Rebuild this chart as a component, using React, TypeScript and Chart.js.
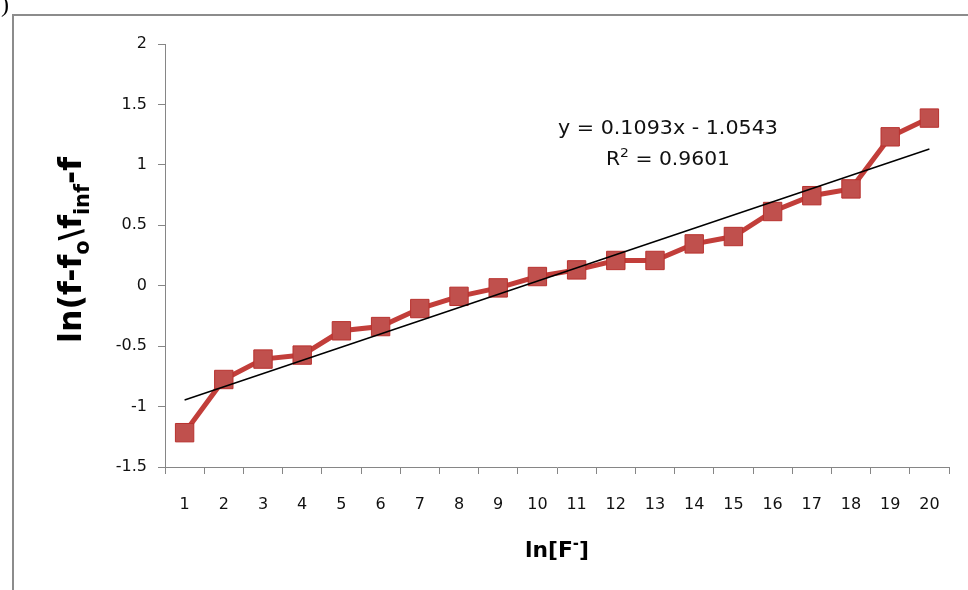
import React, { useEffect, useRef } from "react";
import { Chart, registerables } from "chart.js";

Chart.register(...registerables);

// ---- data ----
const categories = ["1","2","3","4","5","6","7","8","9","10","11","12","13","14","15","16","17","18","19","20"];
const seriesValues = [-1.216, -0.776, -0.607, -0.574, -0.373, -0.338, -0.189, -0.088, -0.018, 0.076, 0.131, 0.209, 0.209, 0.346, 0.407, 0.614, 0.745, 0.801, 1.232, 1.387];
// linear trend line end points (y = 0.1093x - 1.0543 at x = 1 and x = 20)
const trendValues: (number | null)[] = [-0.945, null, null, null, null, null, null, null, null, null, null, null, null, null, null, null, null, null, null, 1.1317];
const yMin = -1.5;
const yMax = 2;
const yStep = 0.5;
const equationLine1 = "y = 0.1093x - 1.0543";
const equationLine2Parts = ["R", "2", " = 0.9601"];
const xTitleParts = ["ln[F", "-", "]"];
const yTitleParts = ["ln(f-f", "o", "\\f", "inf", "-f"];

const FONT = "'DejaVu Sans', Verdana, sans-serif";

type Seg = { t: string; k: "n" | "sub" | "sup" };

function drawRich(
  ctx: CanvasRenderingContext2D,
  segs: Seg[],
  x: number,
  y: number,
  size: number,
  bold: boolean,
  targetW: number,
  color: string
) {
  const small = Math.round(size * 0.66);
  const fontFor = (k: string) => `${bold ? "bold " : ""}${k === "n" ? size : small}px ${FONT}`;
  let w = 0;
  const widths: number[] = [];
  for (const s of segs) {
    ctx.font = fontFor(s.k);
    const mw = ctx.measureText(s.t).width;
    widths.push(mw);
    w += mw;
  }
  const sx = targetW > 0 ? targetW / w : 1;
  ctx.save();
  ctx.translate(x, y);
  ctx.scale(sx, 1);
  ctx.fillStyle = color;
  ctx.textBaseline = "alphabetic";
  ctx.textAlign = "left";
  let cx = -w / 2;
  segs.forEach((s, i) => {
    ctx.font = fontFor(s.k);
    const dy = s.k === "sub" ? size * 0.26 : s.k === "sup" ? -size * 0.4 : 0;
    ctx.fillText(s.t, cx, dy);
    cx += widths[i];
  });
  ctx.restore();
}

const decorPlugin = {
  id: "decor",
  beforeDraw(chart: any) {
    const ctx: CanvasRenderingContext2D = chart.ctx;
    ctx.save();
    ctx.fillStyle = "#ffffff";
    ctx.fillRect(0, 0, chart.width, chart.height);
    // outer frame (top + left)
    ctx.strokeStyle = "#8c8c8c";
    ctx.lineWidth = 2;
    ctx.beginPath();
    ctx.moveTo(13, chart.height);
    ctx.lineTo(13, 15);
    ctx.lineTo(chart.width, 15);
    ctx.stroke();
    // clipped label fragment at top-left
    ctx.fillStyle = "#000";
    ctx.font = "24px 'Liberation Serif', serif";
    ctx.textBaseline = "alphabetic";
    ctx.fillText(")", 1, 12);
    ctx.restore();
  },
  afterDraw(chart: any) {
    const ctx: CanvasRenderingContext2D = chart.ctx;
    // trend equation
    drawRich(ctx, [{ t: equationLine1, k: "n" }], 668, 134, 19, false, 220, "#111");
    drawRich(
      ctx,
      [
        { t: equationLine2Parts[0], k: "n" },
        { t: equationLine2Parts[1], k: "sup" },
        { t: equationLine2Parts[2], k: "n" },
      ],
      668,
      165,
      19,
      false,
      124,
      "#111"
    );
    // x title
    drawRich(
      ctx,
      [
        { t: xTitleParts[0], k: "n" },
        { t: xTitleParts[1], k: "sup" },
        { t: xTitleParts[2], k: "n" },
      ],
      557,
      557,
      22,
      true,
      64,
      "#000"
    );
    // y title (rotated)
    ctx.save();
    ctx.translate(81, 250);
    ctx.rotate(-Math.PI / 2);
    drawRich(
      ctx,
      [
        { t: yTitleParts[0], k: "n" },
        { t: yTitleParts[1], k: "sub" },
        { t: yTitleParts[2], k: "n" },
        { t: yTitleParts[3], k: "sub" },
        { t: yTitleParts[4], k: "n" },
      ],
      0,
      0,
      32,
      true,
      186,
      "#000"
    );
    ctx.restore();
  },
};

export default function App() {
  const canvasRef = useRef<HTMLCanvasElement | null>(null);

  useEffect(() => {
    const canvas = canvasRef.current;
    if (!canvas) return;
    const axisColor = "#868686";
    const chart = new Chart(canvas, {
      type: "line",
      data: {
        labels: categories,
        datasets: [
          {
            label: "trend",
            data: trendValues,
            borderColor: "#000000",
            borderWidth: 1.5,
            pointRadius: 0,
            spanGaps: true,
            fill: false,
            order: 0,
          },
          {
            label: "series",
            data: seriesValues,
            borderColor: "#C23E3A",
            borderWidth: 5,
            pointStyle: "rect",
            pointRadius: 13,
            pointBackgroundColor: "#C0504D",
            pointBorderColor: "#B8312E",
            pointBorderWidth: 1,
            tension: 0,
            fill: false,
            order: 1,
          },
        ],
      },
      options: {
        animation: false,
        responsive: false,
        maintainAspectRatio: false,
        devicePixelRatio: 1,
        layout: { padding: { top: 44, right: 19, bottom: 0, left: 0 } },
        plugins: {
          legend: { display: false },
          tooltip: { enabled: false },
          title: { display: false },
        },
        scales: {
          x: {
            type: "category",
            offset: true,
            grid: {
              offset: true,
              drawOnChartArea: false,
              drawTicks: true,
              tickLength: 7,
              color: axisColor,
              lineWidth: 1,
            },
            border: { display: true, color: axisColor, width: 1 },
            ticks: {
              color: "#111",
              font: { family: FONT, size: 16 },
              padding: 21,
              maxRotation: 0,
              autoSkip: false,
            },
            afterFit: (scale: any) => {
              scale.height = 123;
            },
          },
          y: {
            min: yMin,
            max: yMax,
            grid: {
              drawOnChartArea: false,
              drawTicks: true,
              tickLength: 7,
              color: axisColor,
              lineWidth: 1,
            },
            border: { display: true, color: axisColor, width: 1 },
            ticks: {
              stepSize: yStep,
              color: "#111",
              font: { family: FONT, size: 16 },
              padding: 11,
              callback: (v: any) => String(Number(v)),
            },
            afterFit: (scale: any) => {
              scale.width = 165;
            },
          },
        },
      },
      plugins: [decorPlugin],
    });
    return () => chart.destroy();
  }, []);

  return (
    <div style={{ position: "fixed", left: 0, top: 0, width: 968, height: 590, background: "#fff" }}>
      <canvas ref={canvasRef} width={968} height={590} style={{ width: 968, height: 590, display: "block" }} />
    </div>
  );
}
